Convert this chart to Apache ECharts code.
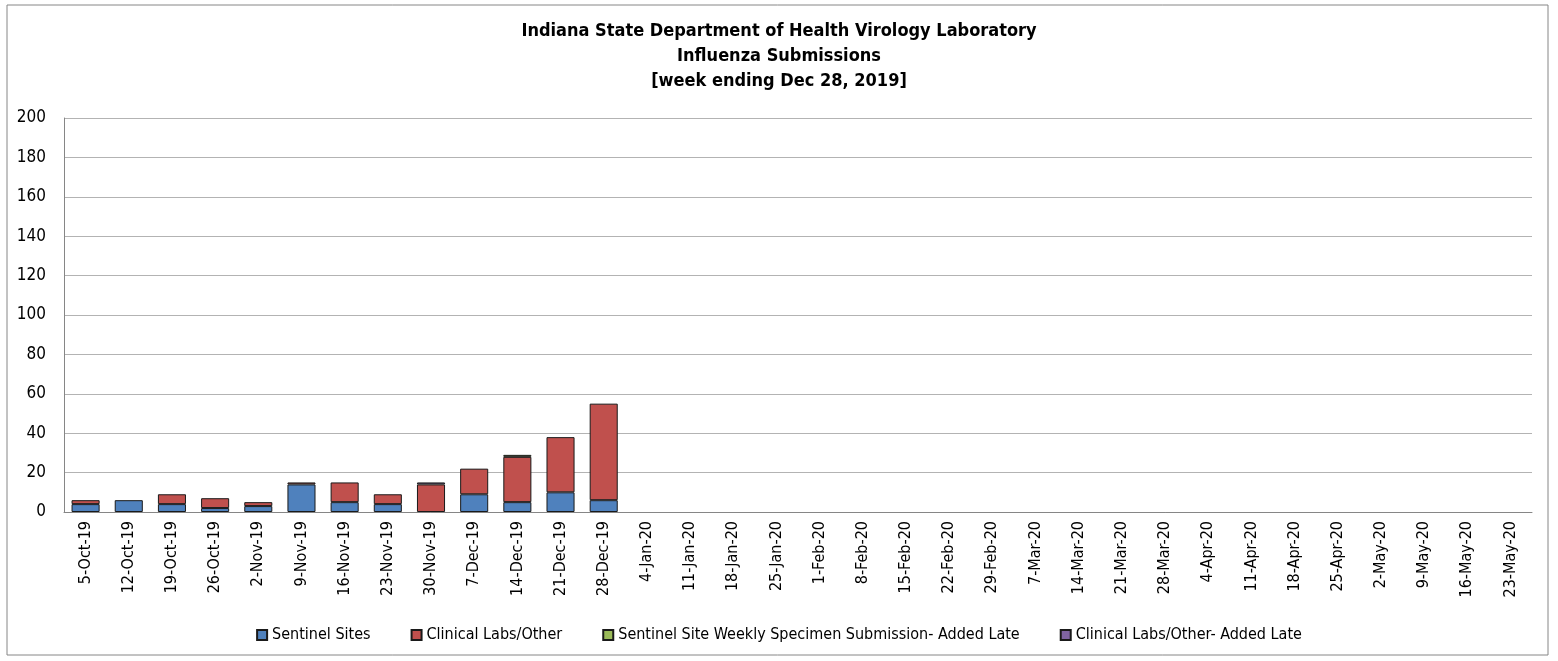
<!DOCTYPE html>
<html>
<head>
<meta charset="utf-8">
<script src="https://cdn.jsdelivr.net/npm/echarts@6/dist/echarts.min.js"></script>
<style>
  html, body { margin: 0; padding: 0; background: #fff; }
  #chart { width: 1558px; height: 661px; }
</style>
</head>
<body>
<div id="chart"></div>
<script>
// weeks ending
var weeks = ['5-Oct-19','12-Oct-19','19-Oct-19','26-Oct-19','2-Nov-19','9-Nov-19','16-Nov-19','23-Nov-19',
  '30-Nov-19','7-Dec-19','14-Dec-19','21-Dec-19','28-Dec-19','4-Jan-20','11-Jan-20','18-Jan-20','25-Jan-20',
  '1-Feb-20','8-Feb-20','15-Feb-20','22-Feb-20','29-Feb-20','7-Mar-20','14-Mar-20','21-Mar-20','28-Mar-20',
  '4-Apr-20','11-Apr-20','18-Apr-20','25-Apr-20','2-May-20','9-May-20','16-May-20','23-May-20']

var sentinel      = [4, 6, 4, 2, 3, 14, 5, 4, 0, 9, 5, 10, 6]
var clinical      = [2, 0, 5, 5, 2, 1, 10, 5, 14, 13, 23, 28, 49]
var sentinelLate  = [0, 0, 0, 0, 0, 0, 0, 0, 0, 0, 1, 0, 0]
var clinicalLate  = [0, 0, 0, 0, 0, 0, 0, 0, 1, 0, 0, 0, 0]

var font = "'Liberation Sans Narrow', 'DejaVu Sans Condensed', 'Liberation Sans', sans-serif"

var myChart = echarts.init(document.getElementById('chart'))

function bar(name, data, color) {
  return {
    name: name,
    type: 'bar',
    stack: 'total',
    barWidth: '65%',
    // zero segments would otherwise draw a stray border line
    data: data.map(function (v) { return v === 0 ? '-' : v }),
    itemStyle: { color: color, borderColor: '#1a1a1a', borderWidth: 1 }
  }
}

var options = {
  animation: false,
  textStyle: { fontFamily: font },
  title: {
    text: 'Indiana State Department of Health Virology Laboratory\nInfluenza Submissions\n[week ending Dec 28, 2019]',
    left: 'center',
    top: 14,
    textStyle: { fontSize: 18, fontWeight: 'bold', lineHeight: 25, color: '#000', fontFamily: font }
  },
  graphic: [{
    type: 'rect',
    shape: { x: 7, y: 5, width: 1541, height: 650 },
    style: { fill: 'none', stroke: '#868686', lineWidth: 1 }
  }],
  legend: {
    bottom: 13,
    left: 'center',
    itemWidth: 10,
    itemHeight: 10,
    itemGap: 40,
    icon: 'rect',
    textStyle: { fontSize: 16, color: '#000', fontFamily: font },
    data: ['Sentinel Sites', 'Clinical Labs/Other', 'Sentinel Site Weekly Specimen Submission- Added Late', 'Clinical Labs/Other- Added Late']
  },
  grid: { left: 64, right: 26, top: 118, bottom: 149 },
  xAxis: {
    type: 'category',
    data: weeks,
    axisLine: { lineStyle: { color: '#868686' } },
    axisTick: { show: false },
    axisLabel: { rotate: 90, fontSize: 16, color: '#000', margin: 9, interval: 0, fontFamily: font }
  },
  yAxis: {
    type: 'value',
    min: 0,
    max: 200,
    interval: 20,
    axisLine: { show: true, lineStyle: { color: '#868686' } },
    axisLabel: { fontSize: 17, color: '#000', margin: 18, fontFamily: font },
    splitLine: { lineStyle: { color: '#b3b3b3' } }
  },
  series: [
    bar('Sentinel Sites', sentinel, '#4F81BD'),
    bar('Clinical Labs/Other', clinical, '#C0504D'),
    bar('Sentinel Site Weekly Specimen Submission- Added Late', sentinelLate, '#9BBB59'),
    bar('Clinical Labs/Other- Added Late', clinicalLate, '#8064A2')
  ]
}
myChart.setOption(options)
</script>
</body>
</html>
